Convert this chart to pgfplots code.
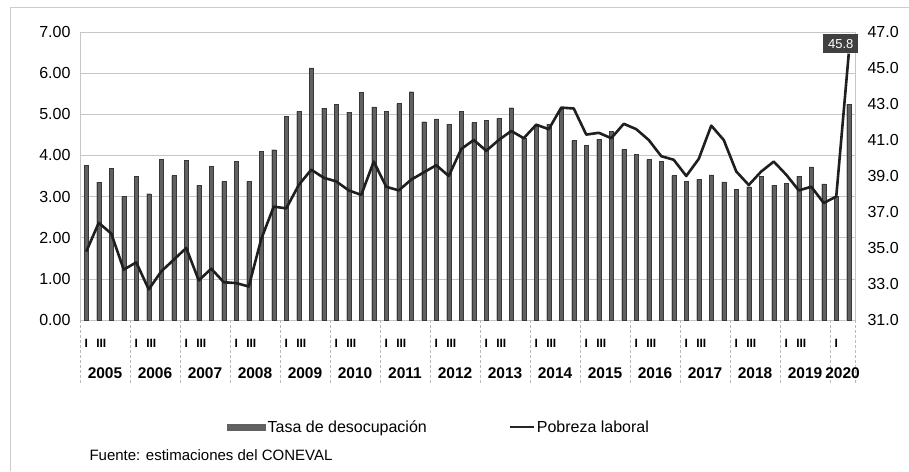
\documentclass[border=0pt]{standalone}
\usepackage{pgfplots}
\pgfplotsset{compat=1.18}
\usepackage{fontspec}
\setmainfont{Liberation Sans}

\pgfplotstableread{
q v
1 3.76
2 3.35
3 3.68
4 3.01
5 3.50
6 3.07
7 3.90
8 3.51
9 3.88
10 3.27
11 3.74
12 3.37
13 3.86
14 3.37
15 4.10
16 4.14
17 4.95
18 5.07
19 6.13
20 5.15
21 5.24
22 5.05
23 5.54
24 5.18
25 5.07
26 5.26
27 5.55
28 4.82
29 4.89
30 4.76
31 5.07
32 4.80
33 4.86
34 4.90
35 5.16
36 4.43
37 4.70
38 4.76
39 5.12
40 4.36
41 4.24
42 4.39
43 4.59
44 4.15
45 4.02
46 3.90
47 3.86
48 3.51
49 3.37
50 3.42
51 3.53
52 3.36
53 3.18
54 3.24
55 3.49
56 3.27
57 3.32
58 3.50
59 3.72
60 3.31
61 3.00
62 5.25
}\desocupacion

\pgfplotstableread{
q v
1 34.8
2 36.4
3 35.8
4 33.8
5 34.2
6 32.7
7 33.7
8 34.35
9 35.0
10 33.2
11 33.85
12 33.1
13 33.05
14 32.86
15 35.5
16 37.3
17 37.2
18 38.5
19 39.35
20 38.9
21 38.7
22 38.2
23 37.95
24 39.8
25 38.4
26 38.2
27 38.8
28 39.2
29 39.6
30 39.0
31 40.5
32 41.0
33 40.4
34 41.0
35 41.5
36 41.1
37 41.85
38 41.6
39 42.8
40 42.75
41 41.3
42 41.4
43 41.1
44 41.9
45 41.6
46 41.0
47 40.1
48 39.9
49 39.0
50 39.95
51 41.8
52 41.0
53 39.25
54 38.5
55 39.25
56 39.8
57 39.07
58 38.2
59 38.4
60 37.5
61 37.86
62 45.8
}\pobreza

\begin{document}
\begin{tikzpicture}
\useasboundingbox (0pt,0pt) rectangle (909pt,471pt);
\draw[gray!40, line width=0.8pt] (10pt,0pt) -- (10pt,464pt) -- (909pt,464pt);

\begin{axis}[
  at={(80pt,151pt)}, anchor=south west,
  width=775pt, height=288pt, scale only axis,
  xmin=0.5, xmax=62.5, ymin=0, ymax=7,
  xtick=\empty,
  ytick={0,1,...,7},
  yticklabel style={xshift=-6pt, /pgf/number format/.cd, fixed, fixed zerofill, precision=2, assume math mode=true},
  tick label style={font=\fontsize{16}{18}\selectfont},
  major tick length=0pt,
  ymajorgrids, grid style={gray!45, line width=0.6pt},
  axis line style={gray!45},
  clip=false,
  legend style={at={(0.186,-0.372)}, anchor=west, draw=none, fill=none,
    legend columns=2, font=\fontsize{16}{18}\selectfont,
    /tikz/every even column/.append style={column sep=80pt}},
]
\addplot[ybar, bar width=4.2pt, fill=black!62, draw=black!78, line width=0.3pt,
  legend image code/.code={\fill[black!62] (0pt,-3pt) rectangle (38pt,3pt);}]
  table[x=q, y=v] {\desocupacion};
\addlegendentry{Tasa de desocupación}
\addlegendimage{legend image code/.code={\draw[black!85, line width=2pt] (0pt,0pt) -- (24pt,0pt);}}
\addlegendentry{Pobreza laboral}

\pgfplotsinvokeforeach{0,...,15}{
  \draw[gray!55, densely dashed, line width=0.6pt] (axis cs:4*#1+0.5,0) -- ++(0pt,-65pt);
}
\draw[gray!55, densely dashed, line width=0.6pt] (axis cs:62.5,0) -- ++(0pt,-65pt);
\pgfplotsinvokeforeach{0,...,14}{
  \node[font=\fontsize{12}{14}\selectfont\bfseries] at (axis cs:4*#1+1,0) [yshift=-23pt] {I};
  \node[font=\fontsize{12}{14}\selectfont\bfseries] at (axis cs:4*#1+2.2,0) [yshift=-23pt] {III};
  \node[font=\fontsize{15.5}{17}\selectfont\bfseries] at (axis cs:4*#1+2.5,0) [yshift=-53pt] {\the\numexpr 2005+#1\relax};
}
\node[font=\fontsize{12}{14}\selectfont\bfseries] at (axis cs:61,0) [yshift=-23pt] {I};
\node[font=\fontsize{15.5}{17}\selectfont\bfseries] at (axis cs:61.5,0) [yshift=-53pt] {2020};
\end{axis}

\begin{axis}[
  at={(80pt,151pt)}, anchor=south west,
  width=775pt, height=288pt, scale only axis,
  xmin=0.5, xmax=62.5, ymin=31, ymax=47,
  axis x line=none, axis y line*=right,
  ytick={31,33,...,47},
  yticklabel style={xshift=9pt, /pgf/number format/.cd, fixed, fixed zerofill, precision=1, assume math mode=true},
  tick label style={font=\fontsize{16}{18}\selectfont},
  major tick length=0pt,
  axis line style={draw=none},
  clip=false,
]
\addplot[black!88, line width=2.6pt, no marks, line join=round] table[x=q, y=v] {\pobreza};
\node[anchor=south, fill=black!75, text=white, font=\fontsize{13}{15}\selectfont, inner sep=5pt, xshift=-8pt] at (axis cs:62,45.8) {45.8};
\end{axis}

\node[anchor=west, font=\fontsize{15}{17}\selectfont] at (86pt,16pt) {Fuente: estimaciones del CONEVAL};
\end{tikzpicture}
\end{document}
